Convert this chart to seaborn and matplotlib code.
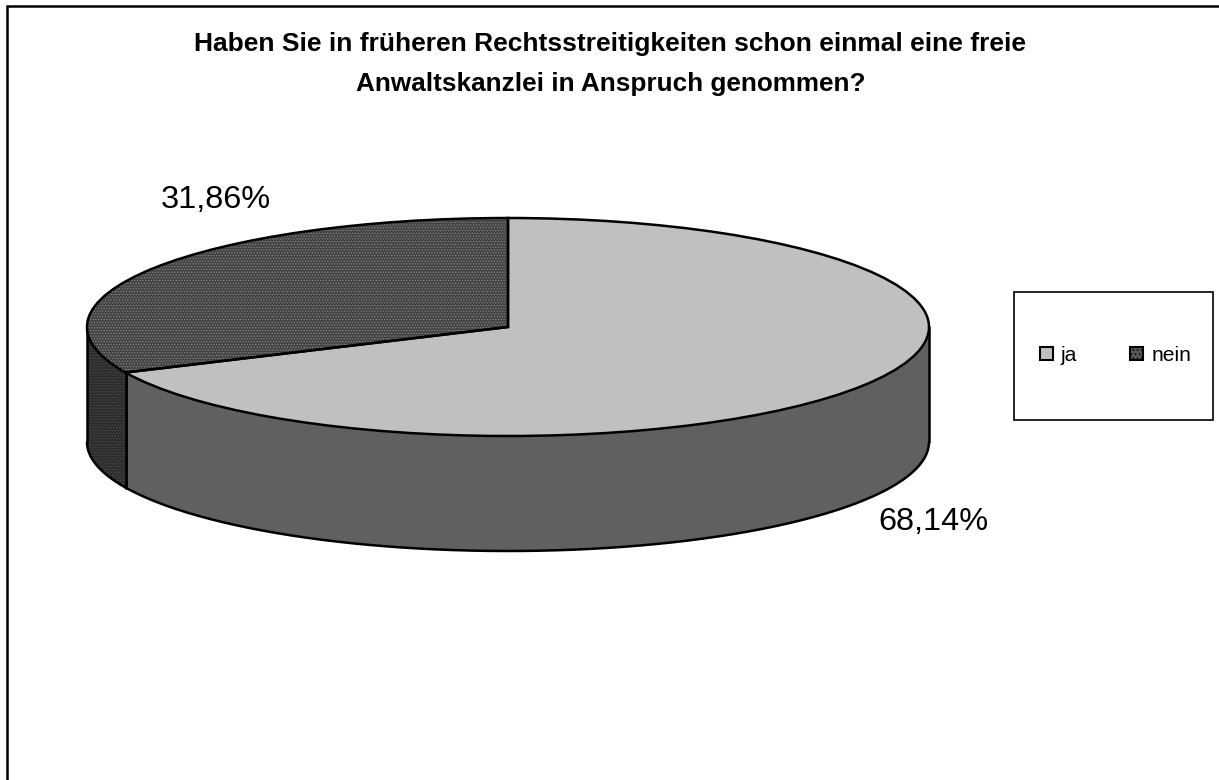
import numpy as np
import matplotlib
matplotlib.use("Agg")
import matplotlib.pyplot as plt
import seaborn as sns
from matplotlib.patches import Rectangle, Patch
from matplotlib.lines import Line2D

title = ["Haben Sie in früheren Rechtsstreitigkeiten schon einmal eine freie",
         "Anwaltskanzlei in Anspruch genommen?"]
categories = ["ja", "nein"]
shares = [68.14, 31.86]
share_labels = ["68,14%", "31,86%"]
top_colors = ["#c0c0c0", "#444444"]
side_colors = ["#606060", "#2c2c2c"]

W, H = 1219, 780
cx, cy = 508, 327
rx, ry = 421, 109
depth = 115 / ry

sns.set_theme(style="white")
plt.rcParams['font.family'] = ['Liberation Sans', 'DejaVu Sans']
plt.rcParams['hatch.linewidth'] = 0.5
plt.rcParams['lines.solid_capstyle'] = 'round'

fig = plt.figure(figsize=(W / 100, H / 100), dpi=100)
ax = fig.add_axes([0, 0, 1, 1])

# top of the pie, clockwise from 12 o'clock
wedges, _ = ax.pie(shares, startangle=90, counterclock=False, colors=top_colors,
                   wedgeprops=dict(linewidth=0, zorder=3))
wedges[1].set_hatch("." * 6)
wedges[1].set_edgecolor("#8a8a8a")
ax.pie(shares, startangle=90, counterclock=False, colors=["none", "none"],
       wedgeprops=dict(edgecolor="black", linewidth=1.8, zorder=4))

ax.set_aspect("auto")
ax.set_xlim(-cx / rx, (W - cx) / rx)
ax.set_ylim(-(H - cy) / ry, cy / ry)

# side wall, only the front half of the cylinder shows
split = np.pi / 2 - 2 * np.pi * shares[0] / 100
t_ja = np.linspace(0, split, 200)
t_nein = np.linspace(split, -np.pi, 100)
for t, c, hatch, dot in [(t_ja, side_colors[0], None, "black"),
                         (t_nein, side_colors[1], "." * 6, "#505050")]:
    x = np.cos(t)
    y1 = np.sin(t)
    y2 = y1 - depth
    ax.fill_between(x, y1, y2, facecolor=c, edgecolor=dot, hatch=hatch, linewidth=0, zorder=1)
    ax.plot(x, y2, color="black", lw=1.8, zorder=2)
    ax.plot([x[0], x[0]], [y1[0], y2[0]], color="black", lw=1.8, zorder=2)
    ax.plot([x[-1], x[-1]], [y1[-1], y2[-1]], color="black", lw=1.8, zorder=2)

# only the left and top edge of the chart frame are visible
fig.add_artist(Line2D([7 / W, 7 / W], [0, 1 - 6 / H], color="black", lw=1.8))
fig.add_artist(Line2D([7 / W, 1], [1 - 6 / H, 1 - 6 / H], color="black", lw=1.8))

fig.text(609.5 / W, 1 - 44 / H, title[0], ha="center", va="center",
         fontsize=19, fontweight="bold", color="black")
fig.text(611 / W, 1 - 84 / H, title[1], ha="center", va="center",
         fontsize=18.8, fontweight="bold", color="black")

fig.text(933 / W, 1 - 522 / H, share_labels[0], ha="center", va="center", fontsize=23.4, color="black")
fig.text(215.5 / W, 1 - 200 / H, share_labels[1], ha="center", va="center", fontsize=23.4, color="black")

# legend box
fig.add_artist(Rectangle((1014 / W, 1 - 420 / H), 199 / W, 128 / H, transform=fig.transFigure,
                         facecolor="white", edgecolor="black", lw=1.2))
handles = [Patch(facecolor=top_colors[0], edgecolor="black", linewidth=1.5),
           Patch(facecolor="#555555", edgecolor="black", linewidth=1.5, hatch="." * 4)]
leg = fig.legend(handles, categories, ncol=2, frameon=False, fontsize=15.2,
                 loc="center", bbox_to_anchor=(1115.5 / W, 1 - 355.5 / H),
                 handlelength=0.6, handleheight=0.6, handletextpad=0.4, columnspacing=2.5)
leg.set_zorder(5)
for t in leg.get_texts():
    t.set_color("black")

fig.savefig("out.png", dpi=100)
